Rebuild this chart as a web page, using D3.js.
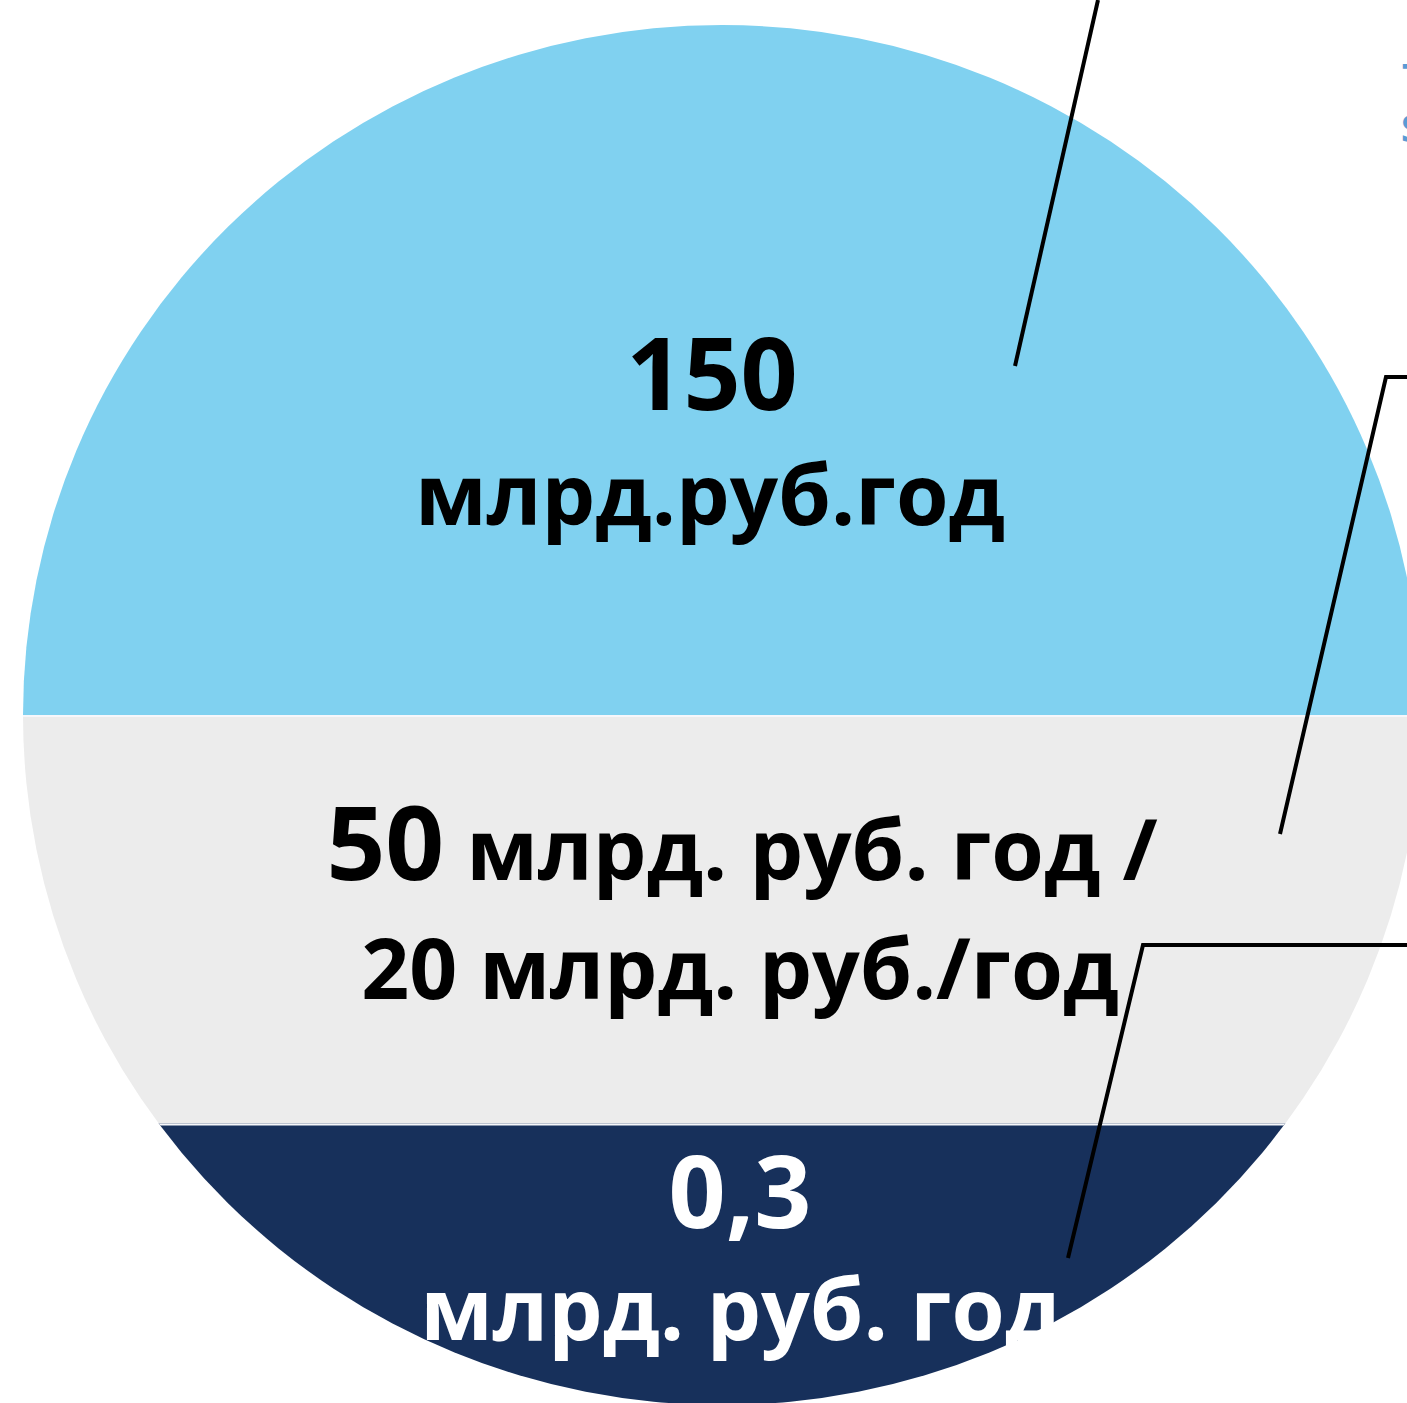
<!DOCTYPE html>
<html lang="ru">
<head>
    <meta charset="UTF-8">
    <script src="https://d3js.org/d3.v7.min.js"></script>
    <title>Круговая диаграмма</title>
    <style>
        body { margin: 0; background: #fff; }
        text { font-family: "Open Sans", "Noto Sans", sans-serif; font-weight: 700; }
    </style>
</head>
<body>
<script>
    // bands of the disc, top to bottom
    const segments = ["top", "middle", "bottom"];
    const shares = [0.5, 0.296, 0.204];
    const colors = ["#80d1f0", "#ececec", "#17305b"];
    const values = ["150", "50", "0,3"];
    const units = ["млрд.руб.год", " млрд. руб. год /", "млрд. руб. год"];
    const secondLine = "20 млрд. руб./год";

    const width = 1407, height = 1403;
    const cx = 722, rx = 699, ry = 690, discTop = 25;

    const svg = d3.select("body").append("svg")
        .attr("width", width)
        .attr("height", height);

    // share of the disc height -> pixel y
    const y = d3.scaleLinear().domain([0, 1]).range([discTop, discTop + 2 * ry]);
    const cum = d3.cumsum([0].concat(shares));

    svg.append("clipPath").attr("id", "disc")
        .append("ellipse")
        .attr("cx", cx).attr("cy", y(0.5))
        .attr("rx", rx).attr("ry", ry);

    const disc = svg.append("g").attr("clip-path", "url(#disc)");

    disc.selectAll("rect")
        .data(segments)
        .enter().append("rect")
        .attr("x", cx - rx)
        .attr("width", 2 * rx)
        .attr("y", (d, i) => y(cum[i]))
        .attr("height", (d, i) => y(cum[i + 1]) - y(cum[i]))
        .attr("fill", (d, i) => colors[i]);

    // thin light seams between bands
    disc.selectAll("line.seam")
        .data(cum.slice(1, -1))
        .enter().append("line")
        .attr("class", "seam")
        .attr("x1", cx - rx).attr("x2", cx + rx)
        .attr("y1", d => y(d) + 1).attr("y2", d => y(d) + 1)
        .attr("stroke", "#f6f7fb")
        .attr("stroke-width", 2);

    // top band label
    svg.append("text")
        .attr("x", 712).attr("y", 410)
        .attr("text-anchor", "middle")
        .attr("font-size", 100)
        .text(values[0]);
    svg.append("text")
        .attr("x", 710).attr("y", 525)
        .attr("text-anchor", "middle")
        .attr("font-size", 85)
        .text(units[0]);

    // middle band label
    const mid = svg.append("text")
        .attr("x", 742).attr("y", 880)
        .attr("text-anchor", "middle");
    mid.append("tspan").attr("font-size", 103).text(values[1]);
    mid.append("tspan").attr("font-size", 85).text(units[1]);

    svg.append("text")
        .attr("x", 740).attr("y", 999)
        .attr("text-anchor", "middle")
        .attr("font-size", 84)
        .text(secondLine);

    // bottom band label
    svg.append("text")
        .attr("x", 740).attr("y", 1228)
        .attr("text-anchor", "middle")
        .attr("font-size", 100)
        .attr("fill", "#fff")
        .text(values[2]);
    svg.append("text")
        .attr("x", 741).attr("y", 1340)
        .attr("text-anchor", "middle")
        .attr("font-size", 86)
        .attr("fill", "#fff")
        .text(units[2]);

    // leader lines
    const leaders = [
        [[1098, 0], [1015, 366]],
        [[1407, 377], [1386, 377], [1280, 834]],
        [[1407, 945], [1143, 945], [1068, 1258]]
    ];
    svg.selectAll("path.leader")
        .data(leaders)
        .enter().append("path")
        .attr("class", "leader")
        .attr("d", d3.line())
        .attr("fill", "none")
        .attr("stroke", "#000")
        .attr("stroke-width", 4);

    // cut-off blue caption on the right edge
    const cap = svg.append("text")
        .attr("x", 1402)
        .attr("font-size", 38)
        .attr("fill", "#5b9bd5");
    cap.append("tspan").attr("x", 1402).attr("y", 91).text("Т");
    cap.append("tspan").attr("x", 1401).attr("y", 142).text("S");
</script>
</body>
</html>
